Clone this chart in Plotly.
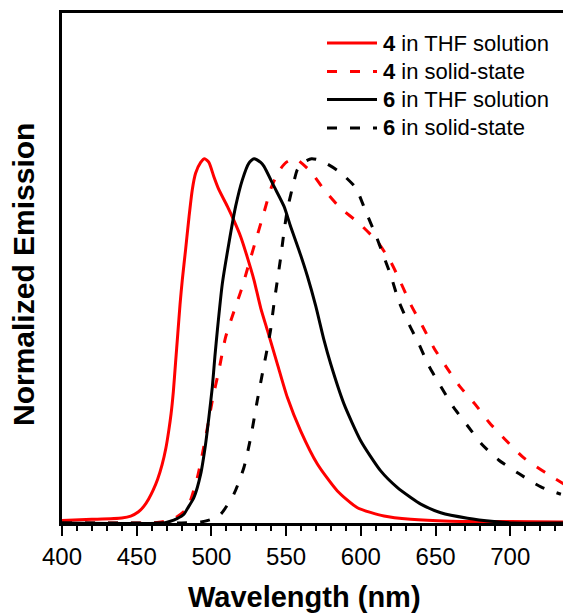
import plotly.graph_objects as go

# ---- data ----
wl_4_thf = [400, 420, 440, 446, 451, 455, 458, 461, 464, 467, 469.5, 471.5, 473, 474.5, 476, 477.5, 479,
            480.5, 482.7, 485, 487.2, 489.4, 492.8, 495.4, 498.3, 501.7, 505, 510.6, 515.1, 519.6, 524, 528.5,
            533, 537.4, 544.1, 550.8, 559.7, 570.9, 584.3, 597.7, 615.5, 633.4, 660, 700, 736]
em_4_thf = [0.007, 0.01, 0.014, 0.019, 0.03, 0.047, 0.066, 0.09, 0.12, 0.16, 0.205, 0.255, 0.3, 0.36, 0.44, 0.52,
            0.6, 0.667, 0.75, 0.84, 0.915, 0.96, 0.99, 1.0, 0.99, 0.95, 0.915, 0.87, 0.83, 0.786, 0.73, 0.667,
            0.59, 0.53, 0.437, 0.345, 0.253, 0.162, 0.088, 0.042, 0.019, 0.010, 0.005, 0.004, 0.003]

wl_4_solid = [400, 440, 455, 465, 472.7, 478, 484, 490.6, 496.1, 500.6, 505, 509.5, 515, 520, 525, 530, 535,
              540, 545, 550, 556, 566.4, 575.4, 586.5, 598.8, 611.1, 620, 626.7, 633.4, 641.3, 649, 656.9,
              665.8, 676.3, 685.9, 696.4, 709.3, 723.2, 736]
em_4_solid = [0.0, 0.0, 0.0, 0.002, 0.008, 0.02, 0.042, 0.125, 0.235, 0.336, 0.419, 0.51, 0.58, 0.64, 0.71,
              0.78, 0.85, 0.92, 0.965, 0.99, 1.0, 0.965, 0.915, 0.864, 0.823, 0.772, 0.717, 0.66, 0.6, 0.54,
              0.48, 0.43, 0.377, 0.327, 0.276, 0.23, 0.178, 0.139, 0.107]

wl_6_thf = [400, 468, 472, 477, 481.6, 484, 488.3, 492.8, 496.1, 498.3, 500.6, 502.3, 504, 507.3, 511.7, 516.2,
            520.7, 525.1, 528.5, 533, 535.2, 541.9, 548.6, 553, 558.6, 564.2, 569.8, 575.4, 579.8, 588.7,
            599.9, 613.3, 624.5, 633.4, 640.1, 653.5, 671.4, 689.2, 702.6, 736]
em_6_thf = [0.0, 0.0, 0.004, 0.012, 0.024, 0.04, 0.07, 0.134, 0.217, 0.29, 0.373, 0.456, 0.53, 0.657, 0.768, 0.869,
            0.942, 0.988, 1.0, 0.99, 0.979, 0.924, 0.869, 0.814, 0.749, 0.678, 0.596, 0.501, 0.437, 0.327,
            0.226, 0.143, 0.097, 0.07, 0.052, 0.028, 0.013, 0.004, 0.0, 0.0]

wl_6_solid = [400, 440, 480, 493, 500, 506.2, 515.1, 521.8, 526.3, 530.7, 534.1, 537.4, 539.6, 541.8, 546.4,
              548.6, 550.8, 554.2, 557.5, 560.9, 567, 573.1, 585.4, 596.6, 603.3, 610, 615.5, 620, 625.6,
              632.3, 639, 645.7, 653.5, 662, 671.4, 680.8, 692.2, 706, 720.5, 733.9]
em_6_solid = [0.0, 0.0, 0.0, 0.003, 0.01, 0.024, 0.08, 0.153, 0.235, 0.336, 0.41, 0.48, 0.53, 0.6, 0.73,
              0.80, 0.86, 0.92, 0.97, 0.988, 1.0, 0.995, 0.965, 0.92, 0.855, 0.79, 0.73, 0.68, 0.607,
              0.545, 0.49, 0.43, 0.375, 0.318, 0.267, 0.217, 0.173, 0.135, 0.099, 0.079]

legend_labels = ["<b>4</b> in THF solution", "<b>4</b> in solid-state",
                 "<b>6</b> in THF solution", "<b>6</b> in solid-state"]
x_ticks = [400, 450, 500, 550, 600, 650, 700]

# ---- style ----
RED = "#ff0000"
BLK = "#000000"
DASH = "10px,13px"
FONT = "Liberation Sans, Arial, sans-serif"

series = [
    (wl_4_thf, em_4_thf, RED, "solid"),
    (wl_4_solid, em_4_solid, RED, DASH),
    (wl_6_thf, em_6_thf, BLK, "solid"),
    (wl_6_solid, em_6_solid, BLK, DASH),
]

fig = go.Figure()
for (x, y, c, d), name in zip(series, legend_labels):
    fig.add_trace(go.Scatter(x=x, y=y, mode="lines", name=name, showlegend=False,
                             line=dict(color=c, width=3, dash=d, shape="spline", smoothing=0.6)))

W, H = 563, 615
L, R, T, B = 62, 0, 13, 92
pw, ph = W - L - R, H - T - B


def px2paper(px, py):
    return (px - L) / pw, (H - B - py) / ph


# custom legend
rows = [43, 71.5, 99.5, 128]
shapes = []
annotations = []
for (x, y, c, d), name, ry in zip(series, legend_labels, rows):
    x0, yy = px2paper(327, ry)
    x1, _ = px2paper(377, ry)
    shapes.append(dict(type="line", xref="paper", yref="paper", x0=x0, x1=x1, y0=yy, y1=yy,
                       line=dict(color=c, width=3, dash=d)))
    xt, _ = px2paper(381, ry)
    annotations.append(dict(text=name, xref="paper", yref="paper", x=xt, y=yy, xanchor="left",
                            yanchor="middle", showarrow=False, font=dict(family=FONT, size=22, color="black")))

# axis titles
xt, yt = px2paper(304, 597)
annotations.append(dict(text="<b>Wavelength (nm)</b>", xref="paper", yref="paper", x=xt, y=yt,
                        xanchor="center", yanchor="middle", showarrow=False,
                        font=dict(family=FONT, size=29, color="black")))
xt, yt = px2paper(23, 275)
annotations.append(dict(text="<b>Normalized Emission</b>", xref="paper", yref="paper", x=xt, y=yt,
                        xanchor="center", yanchor="middle", showarrow=False, textangle=-90,
                        font=dict(family=FONT, size=30, color="black")))

fig.update_layout(
    width=W, height=H, margin=dict(l=L, r=R, t=T, b=B),
    paper_bgcolor="white", plot_bgcolor="white",
    showlegend=False, shapes=shapes, annotations=annotations,
    font=dict(family=FONT, color="black"),
    xaxis=dict(range=[400, 735.3], tickvals=x_ticks, ticks="outside", ticklen=10, tickwidth=2,
               tickcolor="black", showline=True, linewidth=3, linecolor="black", mirror=True,
               showgrid=False, zeroline=False, tickfont=dict(family=FONT, size=24, color="black"),
               minor=dict(dtick=10, ticks="outside", ticklen=5, tickwidth=2, tickcolor="black")),
    yaxis=dict(range=[0, 1.4], showticklabels=False, ticks="", showline=True, linewidth=3,
               linecolor="black", showgrid=False, zeroline=False),
)

fig.write_html("out.html")
